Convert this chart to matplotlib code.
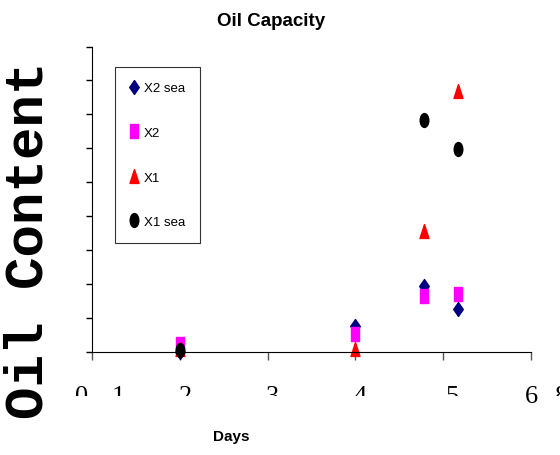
import numpy as np
import matplotlib
matplotlib.use('Agg')
import matplotlib.pyplot as plt
from matplotlib.path import Path
from matplotlib.transforms import Affine2D, Bbox, TransformedBbox, blended_transform_factory

# data
days = [2, 4, 4.78, 5.17]
x2_sea = [0.0, 0.76, 1.95, 1.28]
x2 = [0.23, 0.54, 1.65, 1.71]
x1 = [0.08, 0.09, 3.57, 7.7]
x1_sea = [0.07, np.nan, 6.83, 5.99]

x_tick_labels = ['0', '1', '2', '3', '4', '5', '6', '8']
x_label_pos = [0.88, 1.30, 2.07, 3.05, 4.05, 5.10, 6.01, 6.35]

sans = ['Liberation Sans', 'DejaVu Sans']

# markers in the original are stretched vertically
m_diamond = Path([(0, 1), (0.69, 0), (0, -1), (-0.69, 0), (0, 1)], closed=True)
m_square = Path([(-0.6, -1), (0.6, -1), (0.6, 1), (-0.6, 1), (-0.6, -1)], closed=True)
m_tri = Path([(0, 1), (-0.65, -1), (0.65, -1), (0, 1)], closed=True)
m_circle = Affine2D().scale(0.62, 1.0).transform_path(Path.unit_circle())

fig = plt.figure(figsize=(5.6, 4.56), dpi=100)
ax = fig.add_axes([92 / 560, 1 - 353 / 456, (531 - 92) / 560, (353 - 47.5) / 456])

series = [
    (x2_sea, m_diamond, '#000080', 'X2 sea'),
    (x2, m_square, '#FF00FF', 'X2'),
    (x1, m_tri, '#FF0000', 'X1'),
    (x1_sea, m_circle, '#000000', 'X1 sea'),
]
for vals, mk, col, lab in series:
    ax.plot(days, vals, linestyle='none', marker=mk, markersize=10,
            color=col, markeredgecolor=col, label=lab, clip_on=False)

ax.set_xlim(1, 6)
ax.set_ylim(0, 9)
ax.set_xticks(range(1, 7))
ax.set_yticks(range(10))
ax.set_xticklabels([])
ax.set_yticklabels([])
ax.tick_params(axis='x', direction='out', length=6, width=1, color='#555555')
ax.tick_params(axis='y', direction='out', length=4, width=1, color='black')
ax.spines['top'].set_visible(False)
ax.spines['right'].set_visible(False)

# odd tick label row, partly cut off as in the original
trans = blended_transform_factory(ax.transData, fig.transFigure)
clip = TransformedBbox(Bbox([[0, 1 - 397 / 456], [1, 1]]), fig.transFigure)
for lab, xp in zip(x_tick_labels, x_label_pos):
    t = fig.text(xp, 1 - 403 / 456, lab, transform=trans, ha='center', va='baseline',
                 fontsize=19, family='Liberation Serif')
    if lab != '6':
        t.set_clip_box(clip)
        t.set_clip_on(True)

fig.text(271 / 560, 1 - 22 / 456, 'Oil Capacity', ha='center', va='center',
         fontsize=13.5, fontweight='bold', family=sans)
fig.text(231 / 560, 1 - 437 / 456, 'Days', ha='center', va='center',
         fontsize=11, fontweight='bold', family=sans)
fig.text(28 / 560, 1 - 240 / 456, 'Oil Content', rotation=90, ha='center', va='center',
         fontsize=39, fontweight='bold', family=['Liberation Mono', 'DejaVu Sans Mono'])

leg = ax.legend(loc='upper left', bbox_to_anchor=(115 / 560, 1 - 68 / 456),
                bbox_transform=fig.transFigure, borderaxespad=0, fancybox=False,
                edgecolor='#333333', framealpha=1, handlelength=0.6, handletextpad=0.45,
                labelspacing=2.45, borderpad=1.15, prop={'family': sans, 'size': 9.5})
leg.get_frame().set_linewidth(0.8)

fig.savefig('out.png', dpi=100)
